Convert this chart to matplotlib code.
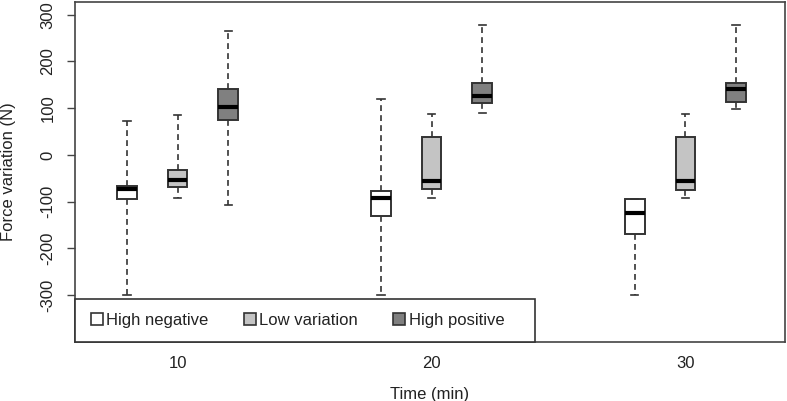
import matplotlib
matplotlib.use("Agg")
import matplotlib.pyplot as plt
from matplotlib.patches import Patch, Rectangle

times = ["10", "20", "30"]
groups = ["High negative", "Low variation", "High positive"]
colors = ["#ffffff", "#c4c4c4", "#808080"]

# per time: [whislo, q1, med, q3, whishi] for each group
high_negative = [[-300, -95, -73, -66, 72],
                 [-300, -130, -92, -77, 119],
                 [-300, -169, -125, -95, -95]]
low_variation = [[-92, -68, -54, -33, 86],
                 [-92, -73, -55, 38, 88],
                 [-92, -75, -55, 38, 88]]
high_positive = [[-107, 74, 103, 142, 265],
                 [90, 110, 125, 153, 278],
                 [98, 114, 140, 153, 278]]

series = [high_negative, low_variation, high_positive]

plt.rcParams['font.family'] = ['Liberation Sans', 'DejaVu Sans']
fig = plt.figure(figsize=(7.87, 4.01), dpi=100)
ax = fig.add_axes([75/787, 1-342/401, 710/787, 340/401])

tc = "#222222"
for gi, ser in enumerate(series):
    stats = []
    pos = []
    for ti, v in enumerate(ser):
        stats.append(dict(whislo=v[0], q1=v[1], med=v[2], q3=v[3], whishi=v[4], fliers=[]))
        pos.append(1 + gi + 5 * ti)
    ax.bxp(stats, positions=pos, widths=0.39, patch_artist=True, showfliers=False,
           capwidths=0.15,
           boxprops=dict(facecolor=colors[gi], edgecolor="#333333", linewidth=1.4),
           medianprops=dict(color="black", linewidth=3, solid_capstyle="butt"),
           whiskerprops=dict(color="#333333", linewidth=1.2, linestyle=(0, (3.5, 2.5))),
           capprops=dict(color="#333333", linewidth=1.2))

ax.set_xlim(-0.02, 13.96)
ax.set_ylim(-400, 327)
ax.set_xticks([2, 7, 12])
ax.set_xticklabels(times, fontsize=12, color=tc)
ax.tick_params(axis="x", length=0, pad=10)
ax.set_yticks([-300, -200, -100, 0, 100, 200, 300])
ax.set_yticklabels(["-300", "-200", "-100", "0", "100", "200", "300"], rotation=90,
                   va="center", fontsize=12, color=tc)
ax.tick_params(axis="y", length=6, width=1, color="#444444", pad=8)
for s in ax.spines.values():
    s.set_color("#444444")
    s.set_linewidth(1.2)
ax.set_xlabel("Time (min)", fontsize=12, color=tc, labelpad=11.5)
ax.set_ylabel("Force variation (N)", fontsize=12, color=tc, labelpad=18)

# legend frame
ax.add_patch(Rectangle((0, 0), 0.648, 0.126, transform=ax.transAxes, facecolor="white",
                       edgecolor="#333333", linewidth=1.2, zorder=5, clip_on=False))
handles = [Patch(facecolor=c, edgecolor="#333333", linewidth=1.2) for c in colors]
leg = ax.legend(handles, groups, loc="center left", bbox_to_anchor=(0, 0.063),
                ncol=3, borderaxespad=0, frameon=False, fontsize=12,
                handlelength=0.72, handleheight=0.72, handletextpad=0.22,
                columnspacing=2.1, borderpad=0.94, labelcolor=tc)
leg.set_zorder(6)

fig.savefig("out.png", dpi=100)
